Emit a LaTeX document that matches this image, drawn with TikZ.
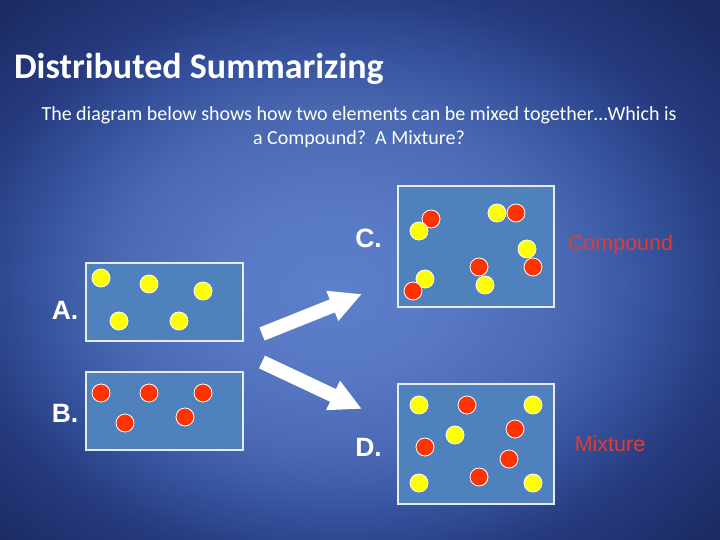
\documentclass[tikz,border=0pt]{standalone}
\usepackage{fontspec}
\setmainfont{Carlito}
\newfontfamily\arialf{Liberation Sans}
\usetikzlibrary{arrows.meta}
\definecolor{bgA}{HTML}{5C80CA}
\definecolor{bgB}{HTML}{5878C4}
\definecolor{bgC}{HTML}{4A68B2}
\definecolor{bgD}{HTML}{34509A}
\definecolor{bgE}{HTML}{263A7E}
\definecolor{bgF}{HTML}{1A2A62}
\definecolor{boxfill}{HTML}{4F81BD}
\definecolor{dotyel}{HTML}{FFFF00}
\definecolor{dotred}{HTML}{FF3300}
\definecolor{lblred}{HTML}{E03C30}
\pgfdeclareradialshading{bgshade}{\pgfpoint{-2bp}{-2bp}}{color(0bp)=(bgA); color(8bp)=(bgB); color(16bp)=(bgC); color(22bp)=(bgD); color(27bp)=(bgE); color(35bp)=(bgF); color(50bp)=(bgF)}
\tikzset{
  panel/.style={draw=white!85!boxfill, line width=1.2pt, fill=boxfill, inner sep=0pt},
  ydot/.style={circle, draw=white, line width=0.8pt, fill=dotyel, minimum size=18pt, inner sep=0pt},
  rdot/.style={circle, draw=white, line width=0.8pt, fill=dotred, minimum size=18pt, inner sep=0pt},
  letter/.style={text=white, font=\arialf\bfseries\fontsize{26.5}{30}\selectfont},
  answer/.style={text=lblred, font=\arialf\fontsize{21.5}{26}\selectfont},
  fatarrow/.style={draw=white, line width=14pt, -{Triangle[length=32pt,width=30pt]}}
}
\begin{document}
\begin{tikzpicture}[x=1pt,y=-1pt]
\shade[shading=bgshade] (0,0) rectangle (720,540);
\useasboundingbox (0,0) rectangle (720,540);
\node[anchor=west, text=white, font=\bfseries\fontsize{36}{42}\selectfont] (title) at (10.5,69) {Distributed Summarizing};
\node[text=white, align=center, font=\fontsize{20}{24}\selectfont] (sub) at (359,127) {The diagram below shows how two elements can be mixed together\ldots Which is\\a Compound?\ \ A Mixture?};
% panels
\node[panel, minimum width=157pt, minimum height=78pt] (pa) at (164.5,302) {};
\node[panel, minimum width=157pt, minimum height=78pt] (pb) at (164.5,411) {};
\node[panel, minimum width=156pt, minimum height=121pt] (pc) at (476,246.5) {};
\node[panel, minimum width=156pt, minimum height=120pt] (pd) at (476,444) {};
% A
\node[ydot] (a1) at (101,278) {};
\node[ydot] (a2) at (149,284) {};
\node[ydot] (a3) at (203,291) {};
\node[ydot] (a4) at (119,321) {};
\node[ydot] (a5) at (179,321) {};
% B
\node[rdot] (b1) at (101,393) {};
\node[rdot] (b2) at (149,393) {};
\node[rdot] (b3) at (203,393) {};
\node[rdot] (b4) at (125,423) {};
\node[rdot] (b5) at (185,417) {};
% C
\node[rdot] (c1) at (431,219) {};
\node[ydot] (c2) at (419,231) {};
\node[ydot] (c3) at (497,213) {};
\node[rdot] (c4) at (516,213) {};
\node[ydot] (c5) at (527,249) {};
\node[rdot] (c6) at (533,267) {};
\node[rdot] (c7) at (479,267) {};
\node[ydot] (c8) at (485,285) {};
\node[ydot] (c9) at (425,279) {};
\node[rdot] (c10) at (413,291) {};
% D
\node[ydot] (d1) at (419,405) {};
\node[rdot] (d2) at (467,405) {};
\node[ydot] (d3) at (533,405) {};
\node[ydot] (d4) at (455,435) {};
\node[rdot] (d5) at (515,429) {};
\node[rdot] (d6) at (425,447) {};
\node[rdot] (d7) at (509,459) {};
\node[rdot] (d8) at (479,477) {};
\node[ydot] (d9) at (419,483) {};
\node[ydot] (d10) at (533,483) {};
% labels
\node[letter] (la) at (65,310) {A.};
\node[letter] (lb) at (65,413) {B.};
\node[letter] (lc) at (368.5,238) {C.};
\node[letter] (ld) at (368.5,447) {D.};
\node[answer] (lcomp) at (620.5,245) {Compound};
\node[answer] (lmix) at (610,444) {Mixture};
% arrows
\coordinate (u0) at (262,334);
\coordinate (u1) at (362,294);
\coordinate (l0) at (262,362);
\coordinate (l1) at (362,409);
\draw[fatarrow] (u0) -- (u1);
\draw[fatarrow] (l0) -- (l1);
\end{tikzpicture}
\end{document}
